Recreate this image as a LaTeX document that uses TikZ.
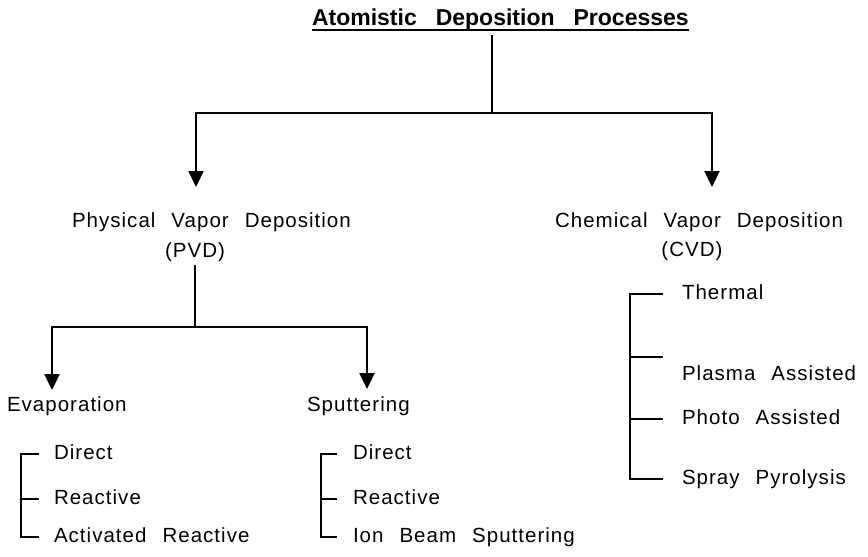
\documentclass[tikz,border=0pt]{standalone}
\usepackage{fontspec}
\usetikzlibrary{arrows.meta}
\newfontfamily\labfont[LetterSpace=5]{Liberation Sans}
\newfontfamily\headfont{Liberation Sans}
% label and heading type setup (size and wide word spacing)
\newcommand\labtype{\labfont\fontsize{20.5}{23}\selectfont\spaceskip 16pt\relax}
\newcommand\headtype{\headfont\bfseries\fontsize{23}{26}\selectfont\spaceskip 19pt\relax}
\begin{document}
\begin{tikzpicture}[x=1pt,y=-1pt,
  lab/.style={inner sep=0pt, outer sep=0pt, text height=14pt, text depth=4pt, font=\labtype},
  headtext/.style={inner sep=0pt, outer sep=0pt, font=\headtype},
  conn/.style={line width=2.3pt, line join=miter},
  arr/.style={conn, -{Triangle[width=15pt,length=16pt]}},
  tick/.style={line width=2pt}]
\useasboundingbox (0,0) rectangle (868,557);
\fill[white] (0,0) rectangle (868,557);

% heading
\node[headtext, anchor=base west] (title) at (312,25) {Atomistic Deposition Processes};
\draw[line width=2.4pt] ([yshift=-5pt]title.base west) -- ([yshift=-5pt]title.base east);

% first level
\node[lab, anchor=base west] (pvd) at (72,227) {Physical Vapor Deposition};
\node[lab, anchor=base] (pvdab) at (195,257) {(PVD)};
\node[lab, anchor=base west] (cvd) at (555,227) {Chemical Vapor Deposition};
\node[lab, anchor=base] (cvdab) at (692,256) {(CVD)};

\coordinate (j1) at (492,113);
\coordinate (pvdtip) at (196,187);
\coordinate (cvdtip) at (712,187);
\draw[conn] (492,35) -- (j1);
\draw[arr] (j1) -| (pvdtip);
\draw[arr] (j1) -| (cvdtip);

% PVD branches
\node[lab, anchor=base west] (evap) at (7,411) {Evaporation};
\node[lab, anchor=base west] (sput) at (307,411) {Sputtering};
\coordinate (j2) at (195,327);
\coordinate (evtip) at (52,390);
\coordinate (sptip) at (367,389);
\draw[conn] ([yshift=-8pt]pvdab.base) -- (j2);
\draw[arr] (j2) -| (evtip);
\draw[arr] (j2) -| (sptip);

% evaporation variants
\node[lab, anchor=base west] (ev1) at (54,459) {Direct};
\node[lab, anchor=base west] (ev2) at (54,504) {Reactive};
\node[lab, anchor=base west] (ev3) at (54,542) {Activated Reactive};
\draw[tick] ([xshift=-15pt]ev1.west) -- ([xshift=-33pt]ev1.west)
  -- ([xshift=-33pt]ev3.west) -- ([xshift=-15pt]ev3.west);
\draw[tick] ([xshift=-33pt]ev2.west) -- ([xshift=-15pt]ev2.west);

% sputtering variants
\node[lab, anchor=base west] (sp1) at (353,459) {Direct};
\node[lab, anchor=base west] (sp2) at (353,504) {Reactive};
\node[lab, anchor=base west] (sp3) at (353,542) {Ion Beam Sputtering};
\draw[tick] ([xshift=-16pt]sp1.west) -- ([xshift=-32pt]sp1.west)
  -- ([xshift=-32pt]sp3.west) -- ([xshift=-16pt]sp3.west);
\draw[tick] ([xshift=-32pt]sp2.west) -- ([xshift=-16pt]sp2.west);

% CVD variants
\node[lab, anchor=base west] (cv1) at (682,299) {Thermal};
\node[lab, anchor=base west] (cv2) at (682,380) {Plasma Assisted};
\node[lab, anchor=base west] (cv3) at (682,424) {Photo Assisted};
\node[lab, anchor=base west] (cv4) at (682,484) {Spray Pyrolysis};
\draw[tick] ([xshift=-19pt]cv1.west) -- ([xshift=-52pt]cv1.west)
  -- ([xshift=-52pt]cv4.west) -- ([xshift=-19pt]cv4.west);
\draw[tick] ([xshift=-52pt,yshift=18pt]cv2.west) -- ([xshift=-19pt,yshift=18pt]cv2.west);
\draw[tick] ([xshift=-52pt]cv3.west) -- ([xshift=-19pt]cv3.west);
\end{tikzpicture}
\end{document}
